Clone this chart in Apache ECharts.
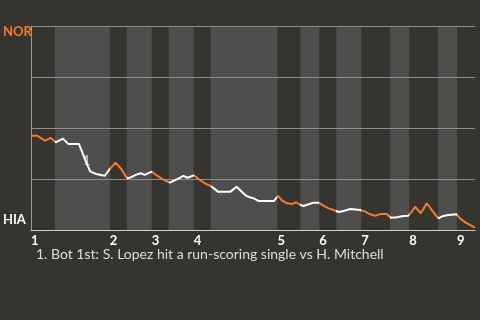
<!DOCTYPE html>
<html><head><meta charset="utf-8">
<script src="https://cdn.jsdelivr.net/npm/echarts@6/dist/echarts.min.js"></script>
<style>html,body{margin:0;padding:0;background:#363430;}#c{width:480px;height:320px;}</style>
</head><body><div id="c"></div>
<script>
// Game progress (x) and home-team-side win probability (NOR = 1, HIA = 0)
const progress = [0,6.3,14,19.7,24.7,32,37.3,48,51.7,55,59.5,66.3,74,79,84.7,90.7,96.3,100,105,110,114,117.3,121,126.7,133.3,139.3,143.3,148.3,152.7,156.7,163.3,168.3,174,180,183.3,187.3,200,206,215,218.3,223.3,228.3,243.3,247.7,251.7,256.7,261.7,265.7,270,273.3,278.3,283.3,288.3,293.3,298.3,303.3,308.3,313.3,320,325,330,335,340,345,350,356.7,360.7,366.7,373.3,378.3,381.7,385,390.7,396.7,401.7,408.3,413.3,418.3,426.7,430,435,440,445];
const winProb = [0.462,0.462,0.438,0.452,0.430,0.448,0.422,0.422,0.377,0.335,0.286,0.273,0.266,0.298,0.330,0.298,0.253,0.258,0.270,0.278,0.270,0.278,0.286,0.265,0.245,0.232,0.242,0.253,0.265,0.256,0.268,0.249,0.229,0.216,0.204,0.188,0.188,0.212,0.170,0.162,0.155,0.142,0.142,0.167,0.144,0.131,0.127,0.136,0.123,0.118,0.126,0.134,0.134,0.118,0.106,0.098,0.088,0.093,0.103,0.101,0.098,0.090,0.077,0.070,0.078,0.078,0.060,0.062,0.069,0.070,0.090,0.114,0.082,0.131,0.098,0.057,0.069,0.074,0.077,0.057,0.038,0.025,0.011];
// half-inning boundaries (top, bottom alternating)
const halfInnings = [0,24,79,96,121,138,163,180,247,270,289,306,331,360,379,408,427,445];
const inningLabels = ['1','2','3','4','5','6','7','8','9'];
const teamLabels = ['HIA','NOR'];
const eventLabel = '1';
const eventPoint = [55, 0.335];
const caption = '1. Bot 1st: S. Lopez hit a run-scoring single vs H. Mitchell';

const ORANGE = '#f47b28', WHITE = '#ffffff', BAND = '#4f4e4c';
const inningStarts = [];
for (let i = 0; i < halfInnings.length - 1; i += 2) inningStarts.push(halfInnings[i]);
const bands = [], pieces = [];
for (let i = 0; i < halfInnings.length - 1; i++) {
  const top = i % 2 === 0;
  pieces.push({gte: halfInnings[i], lt: i === halfInnings.length - 2 ? 1000 : halfInnings[i+1], color: top ? ORANGE : WHITE});
  if (!top) bands.push([{xAxis: halfInnings[i]}, {xAxis: halfInnings[i+1]}]);
}
const data = progress.map((x, i) => [x, winProb[i]]);

const chart = echarts.init(document.getElementById('c'));
chart.setOption({
  backgroundColor: '#363430',
  animation: false,
  title: {text: caption, left: 31, top: 242, textStyle: {color: '#dddddd', fontSize: 14, fontWeight: 'normal', fontFamily: 'Lato'}},
  grid: {left: 30, right: 5, top: 26, bottom: 90},
  visualMap: {show: false, type: 'piecewise', dimension: 0, seriesIndex: 1, pieces: pieces},
  xAxis: {
    type: 'value', min: 0, max: 445, z: 3,
    axisLine: {show: true, lineStyle: {color: '#cccccc', width: 1}},
    axisTick: {show: false}, splitLine: {show: false},
    axisLabel: {customValues: inningStarts, align: 'left', margin: 4, color: '#ffffff', fontSize: 13, fontWeight: 'bold', fontFamily: 'Lato',
      formatter: v => inningLabels[inningStarts.indexOf(v)] || ''}
  },
  yAxis: {
    type: 'value', min: 0, max: 1, interval: 0.25, z: 3,
    axisLine: {show: true, lineStyle: {color: '#999999'}},
    axisTick: {show: false},
    splitLine: {show: true, lineStyle: {color: '#8c8c8c', width: 1}},
    axisLabel: {customValues: [0, 1], align: 'left', margin: 28, fontFamily: 'Lato',
      formatter: v => v === 1 ? '{nor|' + teamLabels[1] + '}' : '{hia|' + teamLabels[0] + '}',
      rich: {
        nor: {color: ORANGE, fontSize: 13, fontWeight: 'bold', padding: [12, 0, 0, 0]},
        hia: {color: '#ffffff', fontSize: 13, fontWeight: 'bold', padding: [0, 0, 21, 0]}
      }}
  },
  series: [
    {type: 'line', data: [], z: 1, silent: true,
     markArea: {silent: true, itemStyle: {color: BAND}, data: bands}},
    {type: 'line', data: data, z: 5, symbol: 'none', lineStyle: {width: 2},
     markPoint: {symbol: 'circle', symbolSize: 0, data: [{coord: eventPoint}],
       label: {show: true, position: 'right', distance: 0, formatter: eventLabel, color: '#bbbbbb', fontSize: 13, fontWeight: 'bold', fontFamily: 'Lato', offset: [-3, -1]}}}
  ]
});
</script></body></html>
